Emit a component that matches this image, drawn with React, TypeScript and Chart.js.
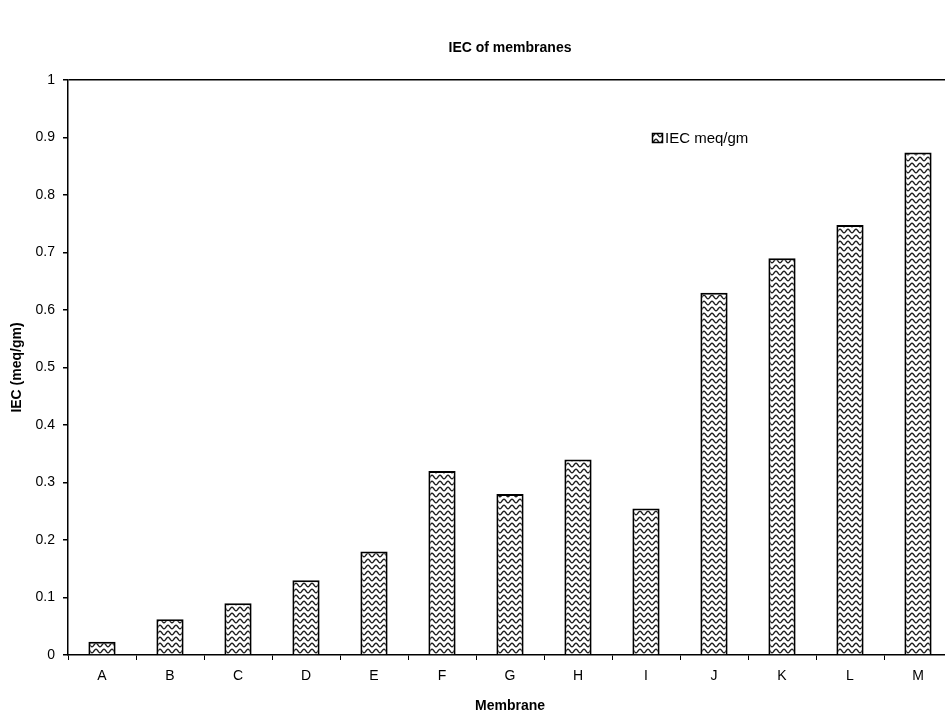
import React, { useEffect, useRef } from "react";
import { Chart, registerables } from "chart.js";

Chart.register(...registerables);

const TITLE = "IEC of membranes";
const X_TITLE = "Membrane";
const Y_TITLE = "IEC (meq/gm)";
const SERIES_LABEL = "IEC meq/gm";
const categories = ["A", "B", "C", "D", "E", "F", "G", "H", "I", "J", "K", "L", "M"];
const iecValues = [0.023, 0.062, 0.09, 0.13, 0.18, 0.32, 0.28, 0.34, 0.255, 0.63, 0.69, 0.748, 0.874];
const yMin = 0;
const yMax = 1;
const yStep = 0.1;

const FONT = '"Liberation Sans", Arial, sans-serif';

function makePattern(ctx: CanvasRenderingContext2D): CanvasPattern | string {
  const c = document.createElement("canvas");
  c.width = 8;
  c.height = 6;
  const g = c.getContext("2d");
  if (!g) return "#ccc";
  g.fillStyle = "#fff";
  g.fillRect(0, 0, 8, 6);
  g.strokeStyle = "#1e1e1e";
  g.lineWidth = 1.4;
  g.beginPath();
  for (let x = -1; x <= 9; x += 0.5) {
    const y = 3 - 1.7 * Math.cos((x / 8) * 2 * Math.PI);
    if (x === -1) g.moveTo(x, y);
    else g.lineTo(x, y);
  }
  g.stroke();
  const p = ctx.createPattern(c, "repeat");
  return p || "#ccc";
}

export default function App() {
  const ref = useRef<HTMLCanvasElement | null>(null);

  useEffect(() => {
    const canvas = ref.current;
    if (!canvas) return;
    const ctx = canvas.getContext("2d");
    if (!ctx) return;
    const pattern = makePattern(ctx);

    const titlePlugin = {
      id: "customTitle",
      afterDraw(chart: any) {
        const { ctx: c, chartArea } = chart;
        c.save();
        c.font = `bold 14px ${FONT}`;
        c.fillStyle = "#000";
        c.textAlign = "center";
        c.textBaseline = "middle";
        c.fillText(TITLE, (chartArea.left + chartArea.right) / 2, 48);
        c.restore();
      },
    };

    const legendPlugin = {
      id: "customLegend",
      afterDraw(chart: any) {
        const c = chart.ctx;
        const bx = 652;
        const by = 133;
        c.save();
        c.fillStyle = pattern;
        c.fillRect(bx, by, 11, 10);
        c.strokeStyle = "#000";
        c.lineWidth = 1.5;
        c.strokeRect(bx + 0.5, by + 0.5, 10, 9);
        c.font = `15px ${FONT}`;
        c.fillStyle = "#000";
        c.textAlign = "left";
        c.textBaseline = "middle";
        c.fillText(chart.data.datasets[0].label, bx + 13, by + 5.5);
        c.restore();
      },
    };

    const chart = new Chart(canvas, {
      type: "bar",
      data: {
        labels: categories,
        datasets: [
          {
            label: SERIES_LABEL,
            data: iecValues,
            backgroundColor: pattern as any,
            borderColor: "#000",
            borderWidth: 2,
            categoryPercentage: 1,
            barPercentage: 0.4,
          },
        ],
      },
      options: {
        responsive: false,
        animation: false,
        layout: { padding: { top: 80, right: 8, bottom: 0, left: 0 } },
        plugins: {
          legend: { display: false },
          title: { display: false },
          tooltip: { enabled: false },
        },
        scales: {
          x: {
            grid: {
              display: true,
              drawOnChartArea: false,
              color: "rgba(0,0,0,0)",
              tickColor: "#000",
              tickLength: 5,
              offset: true,
            },
            border: { display: true, color: "#000", width: 1.5 },
            ticks: {
              color: "#000",
              font: { family: FONT, size: 14 },
              padding: 8,
              maxRotation: 0,
              autoSkip: false,
            },
            title: {
              display: true,
              text: X_TITLE,
              color: "#000",
              font: { family: FONT, size: 14, weight: "bold", lineHeight: 1 },
              padding: { top: 0, bottom: 0 },
            },
            afterFit(scale: any) {
              scale.height = 58;
            },
          },
          y: {
            min: yMin,
            max: yMax,
            grid: {
              display: true,
              drawOnChartArea: true,
              lineWidth: 1.5,
              color: (c: any) => (c.tick && Math.abs(c.tick.value - yMax) < 1e-9 ? "#000" : "rgba(0,0,0,0)"),
              tickColor: "#000",
              tickLength: 5,
            },
            border: { display: true, color: "#000", width: 1.5 },
            ticks: {
              stepSize: yStep,
              color: "#000",
              font: { family: FONT, size: 14 },
              padding: 8,
              callback: (v: any) => String(Math.round(Number(v) * 10) / 10),
            },
            title: {
              display: true,
              text: Y_TITLE,
              color: "#000",
              font: { family: FONT, size: 14, weight: "bold" },
              padding: { top: 9, bottom: 0 },
            },
            afterFit(scale: any) {
              scale.width = 68;
            },
          },
        },
      },
      plugins: [titlePlugin, legendPlugin],
    });

    return () => {
      chart.destroy();
    };
  }, []);

  return (
    <div
      style={{
        position: "fixed",
        left: 0,
        top: 0,
        width: 945,
        height: 713,
        overflow: "hidden",
        background: "#fff",
      }}
    >
      <canvas ref={ref} width={960} height={713} style={{ width: 960, height: 713, display: "block" }} />
    </div>
  );
}
